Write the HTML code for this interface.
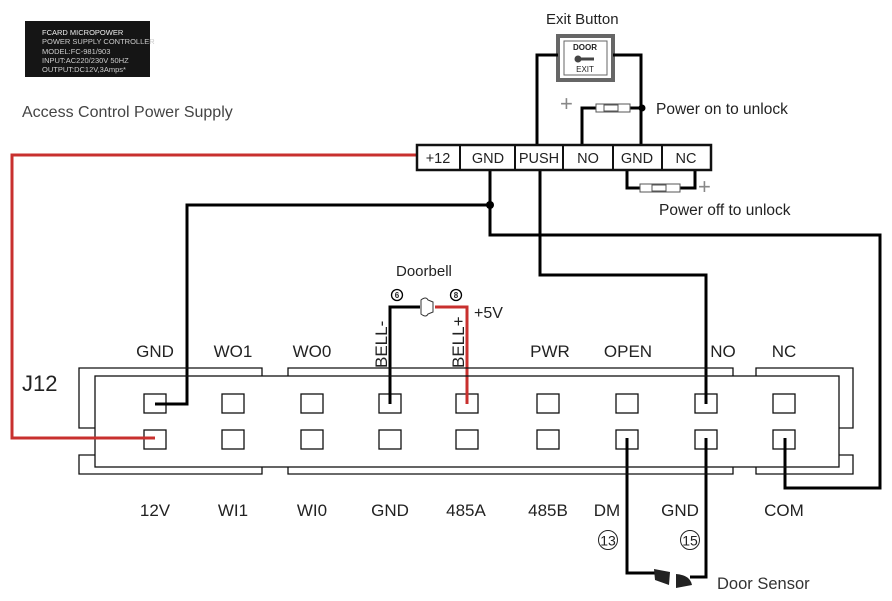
<!DOCTYPE html>
<html><head><meta charset="utf-8"><style>
body{margin:0;background:#fff;width:892px;height:601px;overflow:hidden}
svg{display:block}
text{font-family:"Liberation Sans",sans-serif;fill:#222}
</style></head><body>
<svg width="892" height="601" viewBox="0 0 892 601">
<rect x="25" y="21" width="125" height="56" fill="#151515"/>
<g style="font-family:'Liberation Mono',monospace" font-size="7.5">
<text x="42" y="35" style="fill:#eee">FCARD MICROPOWER</text>
<text x="42" y="44" style="fill:#ccc">POWER SUPPLY CONTROLLER</text>
<text x="42" y="54" style="fill:#ccc">MODEL:FC-981/903</text>
<text x="42" y="63" style="fill:#ccc">INPUT:AC220/230V 50HZ</text>
<text x="42" y="72" style="fill:#ccc">OUTPUT:DC12V,3Amps*</text>
</g>
<text x="22" y="117" font-size="16" style="fill:#444">Access Control Power Supply</text>

<text x="546" y="24" font-size="15">Exit Button</text>
<rect x="558" y="36" width="55" height="44" fill="#fff" stroke="#666" stroke-width="4"/>
<rect x="564" y="41" width="43" height="34" fill="#fff" stroke="#666" stroke-width="1"/>
<text x="585" y="50" font-size="8" font-weight="bold" text-anchor="middle">DOOR</text>
<circle cx="578" cy="59" r="3.5" fill="#444"/><rect x="580" y="57.5" width="14" height="3" fill="#444"/>
<text x="585" y="72" font-size="8" text-anchor="middle">EXIT</text>

<g stroke="#000" stroke-width="3" fill="none">
<polyline points="537,145 537,55 558,55"/>
<polyline points="613,55 641,55 641,145"/>
<polyline points="582,145 582,108 596,108"/>
<line x1="630" y1="108" x2="642" y2="108"/>
<polyline points="627,170 627,188 640,188"/>
<polyline points="680,188 695,188 695,170"/>
<polyline points="490,170 490,235 880,235 880,488 785,488 785,440"/>
<polyline points="490,205 187,205 187,404 155,404"/>
<polyline points="540,170 540,275 706,275 706,404"/>
<polyline points="390,404 390,307 420,307"/>
<polyline points="627,440 627,573 655,573"/>
<polyline points="706,440 706,577 690,577"/>
</g>
<circle cx="642" cy="108" r="3.5"/>
<circle cx="490" cy="205" r="4"/>
<g fill="#fff" stroke="#555" stroke-width="1">
<rect x="596" y="104" width="34" height="8"/><rect x="604" y="105" width="14" height="6"/>
<rect x="640" y="184" width="40" height="8"/><rect x="652" y="185" width="14" height="6"/>
</g>
<text x="560" y="111" font-size="22" style="fill:#888">+</text>
<text x="698" y="194" font-size="22" style="fill:#888">+</text>
<text x="656" y="114" font-size="15.5">Power on to unlock</text>
<text x="659" y="215" font-size="15.5">Power off to unlock</text>

<g stroke="#c8302e" stroke-width="3" fill="none">
<polyline points="418,155 12,155 12,438 155,438"/>
<polyline points="435,307 467,307 467,404"/>
</g>

<rect x="417" y="145" width="294" height="25" fill="#fff" stroke="#111" stroke-width="2.5"/>
<g stroke="#111" stroke-width="2">
<line x1="460" y1="145" x2="460" y2="170"/><line x1="515" y1="145" x2="515" y2="170"/>
<line x1="563" y1="145" x2="563" y2="170"/><line x1="613" y1="145" x2="613" y2="170"/>
<line x1="662" y1="145" x2="662" y2="170"/>
</g>
<g font-size="14.5" text-anchor="middle">
<text x="438" y="163">+12</text><text x="488" y="163">GND</text><text x="539" y="163">PUSH</text>
<text x="588" y="163">NO</text><text x="637" y="163">GND</text><text x="686" y="163">NC</text>
</g>

<text x="396" y="276" font-size="15">Doorbell</text>
<circle cx="397" cy="295" r="5.5" fill="none" stroke="#000" stroke-width="1.3"/><text x="397" y="298" font-size="8" font-weight="bold" text-anchor="middle">6</text>
<circle cx="456" cy="295" r="5.5" fill="none" stroke="#000" stroke-width="1.3"/><text x="456" y="298" font-size="8" font-weight="bold" text-anchor="middle">8</text>
<path d="M421,300 Q426,296 428,300 L433,302 L433,312 L428,314 Q426,318 421,314 Z" fill="#fff" stroke="#333"/>
<text x="474" y="318" font-size="16">+5V</text>

<g fill="none" stroke="#111" stroke-width="1.3">
<polyline points="262,376 262,368 79,368 79,428 95,428"/>
<polyline points="95,455 79,455 79,474 262,474 262,467"/>
<polyline points="288,376 288,368 733,368 733,376"/>
<polyline points="288,467 288,474 733,474 733,467"/>
<polyline points="756,376 756,368 853,368 853,428 839,428"/>
<polyline points="839,455 853,455 853,474 756,474 756,467"/>
<rect x="95" y="376" width="744" height="91"/>
</g>
<g fill="#fff" stroke="#111" stroke-width="1.3">
<rect x="144" y="394" width="22" height="19"/><rect x="222" y="394" width="22" height="19"/><rect x="301" y="394" width="22" height="19"/>
<rect x="379" y="394" width="22" height="19"/><rect x="456" y="394" width="22" height="19"/><rect x="537" y="394" width="22" height="19"/>
<rect x="616" y="394" width="22" height="19"/><rect x="695" y="394" width="22" height="19"/><rect x="773" y="394" width="22" height="19"/>
<rect x="144" y="430" width="22" height="19"/><rect x="222" y="430" width="22" height="19"/><rect x="301" y="430" width="22" height="19"/>
<rect x="379" y="430" width="22" height="19"/><rect x="456" y="430" width="22" height="19"/><rect x="537" y="430" width="22" height="19"/>
<rect x="616" y="430" width="22" height="19"/><rect x="695" y="430" width="22" height="19"/><rect x="773" y="430" width="22" height="19"/>
</g>
<g stroke="#000" stroke-width="3" fill="none">
<polyline points="187,390 187,404 155,404"/>
<line x1="390" y1="390" x2="390" y2="404"/>
<line x1="706" y1="390" x2="706" y2="404"/>
<line x1="627" y1="438" x2="627" y2="452"/>
<line x1="706" y1="438" x2="706" y2="452"/>
<line x1="785" y1="438" x2="785" y2="452"/>
</g>
<g stroke="#c8302e" stroke-width="3"><line x1="90" y1="438" x2="155" y2="438"/><line x1="467" y1="390" x2="467" y2="404"/></g>

<text x="22" y="391" font-size="22">J12</text>
<g font-size="17" text-anchor="middle">
<text x="155" y="357">GND</text><text x="233" y="357">WO1</text><text x="312" y="357">WO0</text>
<text x="550" y="357">PWR</text><text x="628" y="357">OPEN</text><text x="723" y="357">NO</text><text x="784" y="357">NC</text>
<text x="155" y="516">12V</text><text x="233" y="516">WI1</text><text x="312" y="516">WI0</text>
<text x="390" y="516">GND</text><text x="466" y="516">485A</text><text x="548" y="516">485B</text>
<text x="607" y="516">DM</text><text x="680" y="516">GND</text><text x="784" y="516">COM</text>
</g>
<text transform="translate(387,368) rotate(-90)" font-size="17">BELL-</text>
<text transform="translate(464,368) rotate(-90)" font-size="17">BELL+</text>

<circle cx="608" cy="540" r="9.5" fill="none" stroke="#222"/><text x="608" y="545.5" font-size="14" text-anchor="middle">13</text>
<circle cx="690" cy="540" r="9.5" fill="none" stroke="#222"/><text x="690" y="545.5" font-size="14" text-anchor="middle">15</text>
<path d="M654,569 L670,572 L669,585 L655,580 Z" fill="#222"/>
<path d="M676,574 Q690,575 692,585 L676,588 Z" fill="#222"/>
<text x="717" y="589" font-size="16.5" style="fill:#333">Door Sensor</text>
</svg>
</body></html>
